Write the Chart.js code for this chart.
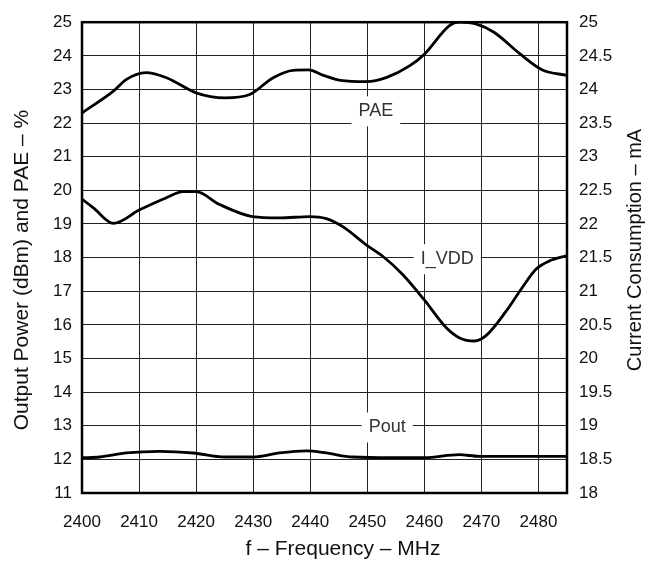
<!DOCTYPE html>
<html>
<head>
<meta charset="utf-8">
<script src="https://cdn.jsdelivr.net/npm/chart.js@4/dist/chart.umd.min.js"></script>
<style>
  html, body { margin: 0; padding: 0; background: #fff; }
  #wrap { width: 652px; height: 564px; }
</style>
</head>
<body>
<div id="wrap"><canvas id="rfChart" width="652" height="564"></canvas></div>
<script>
// frequency ticks (MHz)
const xTicks = [2400, 2410, 2420, 2430, 2440, 2450, 2460, 2470, 2480];

// PAE (%) - left axis
const paeFreq = [2400, 2405.5, 2407.8, 2411.2, 2414.8, 2420, 2425, 2429.4, 2433.5, 2437, 2439.7, 2442.3, 2445.3, 2449.9, 2453.3, 2457.4, 2460, 2464.4, 2466.1, 2469, 2472.2, 2476.6, 2480.7, 2485];
const paeVal = [22.3, 22.95, 23.3, 23.5, 23.35, 22.9, 22.75, 22.85, 23.35, 23.57, 23.58, 23.42, 23.27, 23.23, 23.35, 23.7, 24.05, 24.9, 25.0, 24.95, 24.7, 24.08, 23.58, 23.42];

// I_VDD (mA) - right axis
const iddFreq = [2400, 2402, 2405.5, 2410.1, 2414.8, 2417.7, 2420, 2424.1, 2429.9, 2434.6, 2439.9, 2442.8, 2445.7, 2449.8, 2452.7, 2456.2, 2460, 2463.8, 2466.1, 2468.8, 2470.8, 2474.3, 2477.2, 2479.6, 2481.9, 2485];
const iddVal = [22.37, 22.24, 22.01, 22.21, 22.39, 22.48, 22.48, 22.29, 22.11, 22.09, 22.11, 22.08, 21.96, 21.69, 21.52, 21.25, 20.87, 20.46, 20.31, 20.26, 20.34, 20.7, 21.06, 21.33, 21.45, 21.53];

// Pout (dBm) - left axis
const poutFreq = [2400, 2403.1, 2407.8, 2413.6, 2419.5, 2425, 2430, 2434.6, 2439.3, 2442.8, 2447.4, 2454.4, 2460, 2466.1, 2469.6, 2485];
const poutVal = [12.05, 12.07, 12.19, 12.24, 12.19, 12.07, 12.07, 12.19, 12.25, 12.19, 12.07, 12.05, 12.05, 12.14, 12.09, 12.09];

// curve labels, placed in left-axis units
const labelText = ['PAE', 'I_VDD', 'Pout'];
const labelFreq = [2451.5, 2464, 2453.5];
const labelLevel = [22.35, 17.95, 12.95];

const FONT = '"Liberation Sans", Arial, sans-serif';

function pts(xs, ys) {
    return xs.map((x, i) => ({ x: x, y: ys[i] }));
}

const curveLabels = {
    id: 'curveLabels',
    beforeDatasetsDraw(chart) {
        const ctx = chart.ctx;
        const xs = chart.scales.x, ys = chart.scales.y;
        ctx.save();
        ctx.font = '18px ' + FONT;
        ctx.textAlign = 'center';
        ctx.textBaseline = 'middle';
        labelText.forEach((t, i) => {
            const px = xs.getPixelForValue(labelFreq[i]);
            const py = ys.getPixelForValue(labelLevel[i]);
            const w = ctx.measureText(t).width + 14;
            ctx.fillStyle = '#fff';
            ctx.fillRect(px - w / 2, py - 15, w, 30);
            ctx.fillStyle = '#333';
            ctx.fillText(t, px, py);
        });
        ctx.restore();
    },
    afterDraw(chart) {
        const a = chart.chartArea;
        const ctx = chart.ctx;
        ctx.save();
        ctx.strokeStyle = '#000';
        ctx.lineWidth = 2.5;
        ctx.strokeRect(a.left, a.top, a.right - a.left, a.bottom - a.top);

        // axis titles (both vertical ones read bottom to top)
        ctx.fillStyle = '#111';
        ctx.textAlign = 'center';
        ctx.textBaseline = 'middle';
        ctx.font = '21px ' + FONT;
        ctx.fillText('f – Frequency – MHz', 343, 549);

        ctx.save();
        ctx.translate(22, 270);
        ctx.rotate(-Math.PI / 2);
        ctx.fillText('Output Power (dBm) and PAE – %', 0, 0);
        ctx.restore();

        ctx.save();
        ctx.font = '20px ' + FONT;
        ctx.translate(635, 250);
        ctx.rotate(-Math.PI / 2);
        ctx.fillText('Current Consumption – mA', 0, 0);
        ctx.restore();

        ctx.restore();
    }
};

const lineStyle = {
    borderColor: '#000',
    borderWidth: 2.8,
    pointRadius: 0,
    fill: false,
    cubicInterpolationMode: 'monotone'
};

new Chart(document.getElementById('rfChart').getContext('2d'), {
    type: 'line',
    data: {
        datasets: [
            Object.assign({ label: 'PAE', data: pts(paeFreq, paeVal), yAxisID: 'y' }, lineStyle),
            Object.assign({ label: 'I_VDD', data: pts(iddFreq, iddVal), yAxisID: 'y1' }, lineStyle),
            Object.assign({ label: 'Pout', data: pts(poutFreq, poutVal), yAxisID: 'y' }, lineStyle)
        ]
    },
    options: {
        responsive: false,
        animation: false,
        layout: { padding: { top: 10, left: 0, right: 0, bottom: 0 } },
        plugins: { legend: { display: false }, tooltip: { enabled: false } },
        scales: {
            x: {
                type: 'linear',
                min: 2400,
                max: 2485,
                afterBuildTicks: s => { s.ticks = xTicks.map(v => ({ value: v })); },
                afterFit: s => { s.height = 71; },
                grid: { color: '#222', lineWidth: 1, drawTicks: false },
                border: { display: false },
                ticks: { padding: 19, color: '#111', font: { family: FONT, size: 17 }, callback: v => String(v) }
            },
            y: {
                position: 'left',
                min: 11,
                max: 25,
                afterFit: s => { s.width = 82; },
                grid: { color: '#222', lineWidth: 1, drawTicks: false },
                border: { display: false },
                ticks: { stepSize: 1, padding: 10, color: '#111', font: { family: FONT, size: 17 } }
            },
            y1: {
                position: 'right',
                min: 18,
                max: 25,
                afterFit: s => { s.width = 85; },
                grid: { display: false, drawTicks: false },
                border: { display: false },
                ticks: { stepSize: 0.5, padding: 12, color: '#111', font: { family: FONT, size: 17 }, callback: v => String(v) }
            }
        }
    },
    plugins: [curveLabels]
});
</script>
</body>
</html>
